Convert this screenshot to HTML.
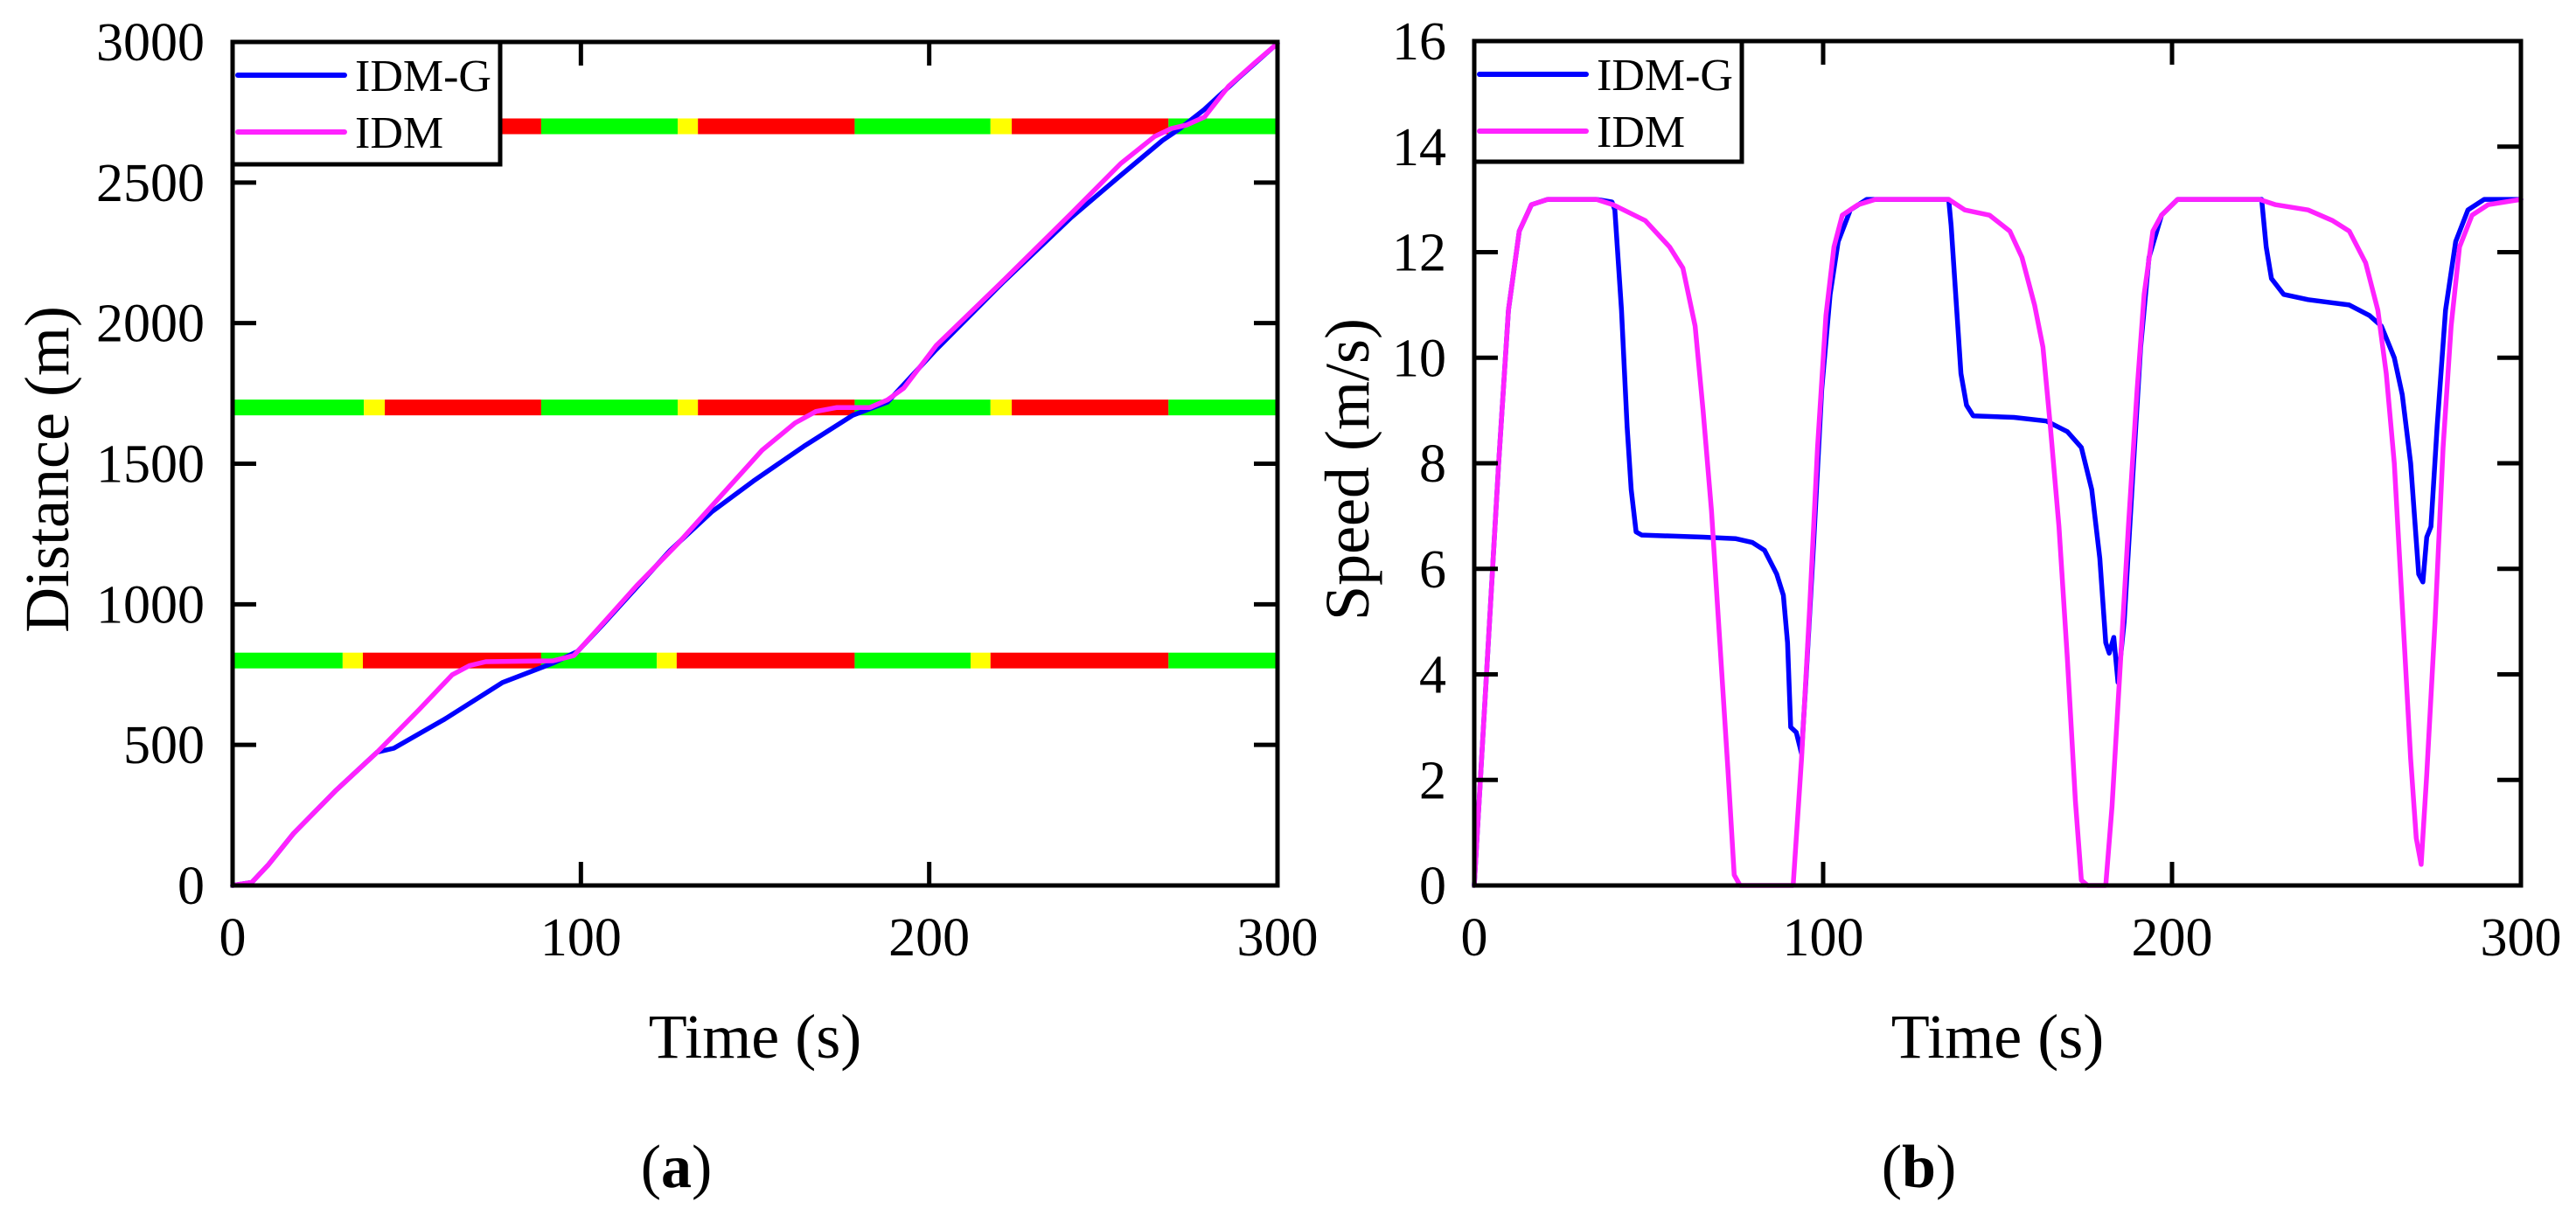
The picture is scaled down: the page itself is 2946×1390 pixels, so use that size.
<!DOCTYPE html>
<html><head><meta charset="utf-8"><style>
html,body{margin:0;padding:0;background:#fff}
svg{display:block}
text{font-family:"Liberation Serif",serif;fill:#000}
</style></head><body>
<svg id="fig" width="2946" height="1390" viewBox="0 0 2946 1390" xmlns="http://www.w3.org/2000/svg">
<g id="pa"></g>
<g id="pb"></g>
</svg>
<script>
// ---- Panel (a): distance data ----
const distTimeIDM = [0,5.5,10.3,17.5,29.5,41.5,53.5,63,68,72.7,92,98,104,116,128,140,152,161.5,167.5,173.5,183,188,192.7,202,221.5,240.7,255,264.7,269.5,274,279,286,293.5,300];
const distIDM =     [0,11,74,185,336,474,625,749,782,796,799,818,900,1066,1218,1383,1548,1645,1686,1700,1700,1727,1769,1920,2154,2389,2568,2664,2692,2705,2733,2843,2926,2995];
const distTimeIDMG = [0,5.5,10.3,17.5,29.5,41.5,46.3,60.7,77.5,92,99,106.3,125.5,137.5,149.5,164,178,188,202,221.5,240.7,255,267,272,279,288.7,300];
const distIDMG =     [0,11,74,185,336,474,488,590,722,791,832,928,1190,1328,1438,1562,1672,1719,1906,2149,2375,2526,2650,2692,2760,2871,2995];
const distTicksX = [0,100,200,300];
const distTicksY = [0,500,1000,1500,2000,2500,3000];
// signal rows: position (m), phase boundaries (s), phase colours
const signalPositions = [800,1700,2700];
const signalBounds = [
  [0,31.6,37.4,88.6,121.8,127.5,178.6,211.9,217.6,268.7,300],
  [0,37.7,43.7,88.6,127.8,133.6,178.6,217.6,223.7,268.7,300],
  [0,37.7,43.7,88.6,127.8,133.6,178.6,217.6,223.7,268.7,300]
];
const signalPhases = ['g','y','r','g','y','r','g','y','r','g'];

// ---- Panel (b): speed data ----
const spdTimeIDM = [0,3.5,7,9.8,12.9,16.4,21,35,39.8,49,56,59.8,63.3,65.6,68,70.3,72.7,74.5,76.2,91.4,93.8,96.1,98.4,100.8,103.1,105.5,110,115,136,140.6,147.7,153.5,157,160.6,163,165,167.6,170,172.3,174,175.8,181,182.8,185,187.5,190,192,194.5,197,201.6,225,229.7,239,246,250.8,255.5,259,261.4,263.7,266,268.4,270,271.4,273,275.4,277.7,280,282.4,286,290.6,300];
const spdIDM =     [0,4,8,10.9,12.4,12.9,13,13,12.9,12.6,12.1,11.7,10.6,9,7.1,4.7,2.2,0.2,0,0,2.4,5.2,8.3,10.8,12.1,12.7,12.9,13,13,12.8,12.7,12.4,11.9,11,10.2,8.8,6.8,4.3,1.6,0.1,0,0,1.5,4,6.8,9.4,11.2,12.4,12.7,13,13,12.9,12.8,12.6,12.4,11.8,10.9,9.7,8,5.3,2.4,0.9,0.4,2.1,5,8.3,10.6,12.1,12.7,12.9,13];
const spdTimeIDMG = [0,3.5,7,9.8,12.9,16.4,21,35,39.5,40.3,42.2,43.8,45,46.4,48,65.6,75,79.7,83.2,86.7,88.6,89.8,90.7,92.3,93.8,94.9,97.3,99.6,102,104.3,107.8,112.5,136,136.7,138.3,139.5,141.1,143,154.7,164,170,174,177,179.3,181,182,183.3,184.5,186.3,188.7,191,193.4,197,201.6,225.7,227,228.5,232,239,250.8,256.6,260,263.7,266,268.4,270.7,271.9,273,274.2,276,278.4,281.3,284.8,289.5,300];
const spdIDMG =     [0,4,8,10.9,12.4,12.9,13,13,12.95,12.8,10.9,8.7,7.5,6.7,6.64,6.6,6.57,6.5,6.35,5.9,5.5,4.6,3.0,2.9,2.5,3.7,6.5,9.4,11.2,12.2,12.8,13,13,12.5,10.9,9.7,9.1,8.9,8.87,8.8,8.6,8.3,7.5,6.2,4.6,4.4,4.7,3.85,5,7.7,10.2,11.9,12.7,13,13,12.1,11.5,11.2,11.1,11.0,10.8,10.6,10.0,9.3,8,5.9,5.75,6.6,6.8,8.7,10.9,12.2,12.8,13,13];
const spdTicksX = [0,100,200,300];
const spdTicksY = [0,2,4,6,8,10,12,14,16];

const NS='http://www.w3.org/2000/svg';
function mk(parent,tag,attrs){const e=document.createElementNS(NS,tag);for(const k in attrs)e.setAttribute(k,attrs[k]);parent.appendChild(e);return e;}
const phaseColor={g:'#00ff00',y:'#ffff00',r:'#ff0000'};

function panel(g,box,xmax,ymax,tx,ty,series,yTitle,letter,titleX,signals){
  const sx=t=>box.x0+(t/xmax)*(box.x1-box.x0);
  const sy=v=>box.y1-(v/ymax)*(box.y1-box.y0);
  if(signals){
    signalPositions.forEach((pos,i)=>{
      const b=signalBounds[i];
      for(let j=0;j<b.length-1;j++){
        const r=mk(g,'rect',{x:sx(b[j]),y:sy(pos)-9,width:sx(b[j+1])-sx(b[j]),height:18,fill:phaseColor[signalPhases[j]]});
        
        
      }
    });
  }
  series.forEach(s=>{
    const d=s.t.map((t,i)=>(i?'L':'M')+sx(t).toFixed(1)+' '+sy(s.v[i]).toFixed(1)).join(' ');
    const p=mk(g,'path',{d:d,fill:'none',stroke:s.c,'stroke-width':5.5,'stroke-linejoin':'round','stroke-linecap':'round'});
    
    
  });
  tx.forEach(t=>{
    const x=sx(t);
    mk(g,'line',{x1:x,y1:box.y1,x2:x,y2:box.y1-27,stroke:'#000','stroke-width':5});
    mk(g,'line',{x1:x,y1:box.y0,x2:x,y2:box.y0+27,stroke:'#000','stroke-width':5});
    const l=mk(g,'text',{x:x,y:1093,'font-size':62,'text-anchor':'middle'});l.textContent=t;
    
    
  });
  ty.forEach(v=>{
    const y=sy(v);
    mk(g,'line',{x1:box.x0,y1:y,x2:box.x0+27,y2:y,stroke:'#000','stroke-width':5});
    mk(g,'line',{x1:box.x1,y1:y,x2:box.x1-27,y2:y,stroke:'#000','stroke-width':5});
    const l=mk(g,'text',{x:box.x0-32,y:y+21,'font-size':62,'text-anchor':'end'});l.textContent=v;
    
    
  });
  const fr=mk(g,'rect',{x:box.x0,y:box.y0,width:box.x1-box.x0,height:box.y1-box.y0,fill:'none',stroke:'#000','stroke-width':5});
  
  
  const lg=mk(g,'g',{});
  
  
  mk(lg,'rect',{x:box.x0,y:box.y0,width:box.lw,height:box.lh,fill:'#fff',stroke:'#000','stroke-width':5});
  series.forEach((s,i)=>{
    const ly=box.y0+38+i*65;
    mk(lg,'line',{x1:box.x0+6,y1:ly,x2:box.x0+128,y2:ly,stroke:s.c,'stroke-width':6,'stroke-linecap':'round'});
    const t=mk(lg,'text',{x:box.x0+140,y:ly+18,'font-size':52});t.textContent=s.label;
    
    
  });
  const xt=mk(g,'text',{x:(box.x0+box.x1)/2,y:1210,'font-size':72,'text-anchor':'middle'});xt.textContent='Time (s)';
  
  
  const yt=mk(g,'text',{x:0,y:0,'font-size':72,'text-anchor':'middle',transform:'translate('+(titleX)+',537) rotate(-90)'});yt.textContent=yTitle;
  
  
  const lt=mk(g,'text',{x:(box.x0+box.x1)/2-90,y:1358,'font-size':70,'text-anchor':'middle'});
  lt.innerHTML='(<tspan font-weight="bold">'+letter+'</tspan>)';
  
  
}
panel(document.getElementById('pa'),{x0:266,x1:1461,y0:48,y1:1013,lw:306,lh:140},300,3000,distTicksX,distTicksY,
  [{name:'idm-g',label:'IDM-G',c:'#0000ff',t:distTimeIDMG,v:distIDMG},{name:'idm',label:'IDM',c:'#ff22ff',t:distTimeIDM,v:distIDM}],
  'Distance (m)','a',78,true);
panel(document.getElementById('pb'),{x0:1686,x1:2883,y0:47,y1:1013,lw:306,lh:138},300,16,spdTicksX,spdTicksY,
  [{name:'idm-g',label:'IDM-G',c:'#0000ff',t:spdTimeIDMG,v:spdIDMG},{name:'idm',label:'IDM',c:'#ff22ff',t:spdTimeIDM,v:spdIDM}],
  'Speed (m/s)','b',1565,false);
</script>
</body></html>
